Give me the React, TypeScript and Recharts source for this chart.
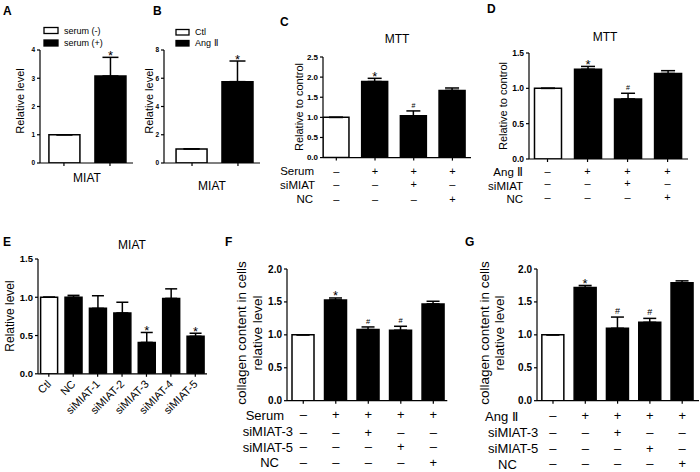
import React from "react";
import { Bar, BarChart, Cell, ErrorBar, LabelList, XAxis, YAxis } from "recharts";

const FONT = "'Liberation Sans', Arial, Helvetica, sans-serif";

// ---- data ----
// A: MIAT, serum
const aValues = [1, 3.08];
const aErrors = [0, 0.66];
const aMarks = ["", "*"];
const aLegend = ["serum (-)", "serum (+)"];

// B: MIAT, Ang II
const bValues = [1, 5.76];
const bErrors = [0, 1.46];
const bMarks = ["", "*"];
const bLegend = ["Ctl", "Ang \u2161"];

// C: MTT, serum
const cValues = [1, 1.89, 1.04, 1.67];
const cErrors = [0, 0.08, 0.12, 0.06];
const cMarks = ["", "*", "#", ""];
const cRowNames = ["Serum", "siMIAT", "NC"];
const cRows = [
  ["–", "+", "+", "+"],
  ["–", "–", "+", "–"],
  ["–", "–", "–", "+"],
];

// D: MTT, Ang II
const dValues = [1, 1.27, 0.85, 1.21];
const dErrors = [0, 0.04, 0.08, 0.04];
const dMarks = ["", "*", "#", ""];
const dRowNames = ["Ang \u2161", "siMIAT", "NC"];
const dRows = [
  ["–", "+", "+", "+"],
  ["–", "–", "+", "–"],
  ["–", "–", "–", "+"],
];

// E: MIAT knockdown
const eLabels = ["Ctl", "NC", "siMIAT-1", "siMIAT-2", "siMIAT-3", "siMIAT-4", "siMIAT-5"];
const eValues = [1, 1.0, 0.855, 0.795, 0.41, 0.985, 0.49];
const eErrors = [0, 0.025, 0.165, 0.14, 0.13, 0.125, 0.04];
const eMarks = ["", "", "", "", "*", "", "*"];

// F: collagen, serum
const fValues = [1, 1.53, 1.08, 1.07, 1.47];
const fErrors = [0, 0.03, 0.04, 0.06, 0.04];
const fMarks = ["", "*", "#", "#", ""];
const fRowNames = ["Serum", "siMIAT-3", "siMIAT-5", "NC"];
const fRows = [
  ["–", "+", "+", "+", "+"],
  ["–", "–", "+", "–", "–"],
  ["–", "–", "–", "+", "–"],
  ["–", "–", "–", "–", "+"],
];

// G: collagen, Ang II
const gValues = [1, 1.72, 1.1, 1.19, 1.79];
const gErrors = [0, 0.03, 0.17, 0.06, 0.03];
const gMarks = ["", "*", "#", "#", ""];
const gRowNames = ["Ang \u2161", "siMIAT-3", "siMIAT-5", "NC"];
const gRows = [
  ["–", "+", "+", "+", "+"],
  ["–", "–", "+", "–", "–"],
  ["–", "–", "–", "+", "–"],
  ["–", "–", "–", "–", "+"],
];

// ---- layout ----
const YW = 34;
const MT = 12;
const MR = 4;
const AXIS = { stroke: "#000", strokeWidth: 1.2 };

type Box = {
  left: number;
  right: number;
  top: number;
  bottom: number;
  xDomain: [number, number];
  yMax: number;
  yStep: number;
  digits: number;
  barSize: number;
  cap: number;
  tickFont: number;
  axisH: number;
  markFont: number;
  hashFont: number;
};

type PanelProps = {
  box: Box;
  values: number[];
  errors: number[];
  marks: string[];
  tick: (p: any) => React.ReactElement;
};

function BarPanel({ box, values, errors, marks, tick }: PanelProps) {
  const plotW = box.right - box.left;
  const plotH = box.bottom - box.top;
  const width = YW + plotW + MR;
  const height = MT + plotH + box.axisH;
  const data = values.map((v, i) => ({ i, v, e: [0, errors[i]], mark: marks[i] }));
  const yTicks: number[] = [];
  for (let t = 0; t <= box.yMax + 1e-9; t += box.yStep) yTicks.push(+t.toFixed(3));

  const renderMark = (p: any) => {
    const idx = p.index;
    const m = marks[idx];
    if (!m) return null;
    const perUnit = p.height / values[idx];
    const capY = p.y - errors[idx] * perUnit;
    const cx = p.x + p.width / 2;
    if (m === "*") {
      return (
        <text x={cx} y={capY + 2.5} textAnchor="middle" fontSize={box.markFont} fontFamily={FONT} fill="#000">
          *
        </text>
      );
    }
    return (
      <text x={cx} y={capY - 3} textAnchor="middle" fontSize={box.hashFont} fontFamily={FONT} fill="#000">
        #
      </text>
    );
  };

  return (
    <div style={{ position: "absolute", left: box.left - YW, top: box.top - MT }}>
      <BarChart width={width} height={height} data={data} margin={{ top: MT, right: MR, bottom: 0, left: 0 }}>
        <XAxis
          type="number"
          dataKey="i"
          domain={box.xDomain}
          allowDataOverflow
          ticks={values.map((_, i) => i)}
          interval={0}
          height={box.axisH}
          tickSize={3}
          axisLine={AXIS}
          tickLine={AXIS}
          tick={(p: any) => tick({ ...p, plotBottom: MT + plotH })}
        />
        <YAxis
          type="number"
          domain={[0, box.yMax]}
          allowDataOverflow
          ticks={yTicks}
          width={YW}
          tickSize={3}
          tickMargin={2}
          axisLine={AXIS}
          tickLine={AXIS}
          tickFormatter={(v: number) => v.toFixed(box.digits)}
          tick={{ fontSize: box.tickFont, fontWeight: 700, fill: "#000", fontFamily: FONT }}
        />
        <Bar dataKey="v" barSize={box.barSize} stroke="#000" strokeWidth={1.5} isAnimationActive={false}>
          {data.map((_, i) => (
            <Cell key={i} fill={i === 0 ? "#fff" : "#000"} />
          ))}
          <ErrorBar dataKey="e" direction="y" width={box.cap} stroke="#000" strokeWidth={1.5} />
          <LabelList dataKey="mark" content={renderMark} />
        </Bar>
      </BarChart>
    </div>
  );
}

const emptyTick = () => <g />;

function signTick(rows: string[][], offsets: number[], fontSize: number) {
  return (p: any) => {
    const idx = Math.round(p.payload.value);
    return (
      <g>
        {rows.map((r, k) => (
          <text
            key={k}
            x={p.x}
            y={p.plotBottom + offsets[k]}
            textAnchor="middle"
            dominantBaseline="central"
            fontSize={fontSize}
            fontFamily={FONT}
            fill="#000"
          >
            {r[idx]}
          </text>
        ))}
      </g>
    );
  };
}

const eTick = (p: any) => {
  const idx = Math.round(p.payload.value);
  return (
    <text
      transform={`translate(${p.x + 3},${p.plotBottom + 11}) rotate(-45)`}
      textAnchor="end"
      fontSize={11}
      fontFamily={FONT}
      fill="#000"
    >
      {eLabels[idx]}
    </text>
  );
};

const boxA: Box = { left: 40, right: 133, top: 50, bottom: 163, xDomain: [-0.52, 1.5], yMax: 4, yStep: 1, digits: 0, barSize: 31, cap: 8, tickFont: 6.5, axisH: 30, markFont: 13, hashFont: 8 };
const boxB: Box = { left: 164, right: 260, top: 50, bottom: 163, xDomain: [-0.61, 1.48], yMax: 8, yStep: 2, digits: 0, barSize: 31, cap: 8, tickFont: 6.5, axisH: 30, markFont: 13, hashFont: 8 };
const boxC: Box = { left: 323, right: 471, top: 56.7, bottom: 157.3, xDomain: [-0.344, 3.48], yMax: 2.5, yStep: 0.5, digits: 1, barSize: 26, cap: 7, tickFont: 8, axisH: 50, markFont: 13, hashFont: 7 };
const boxD: Box = { left: 529, right: 688, top: 53.3, bottom: 159.3, xDomain: [-0.4625, 3.51], yMax: 1.5, yStep: 0.5, digits: 1, barSize: 27, cap: 7, tickFont: 8.5, axisH: 50, markFont: 13, hashFont: 7 };
const boxE: Box = { left: 37.5, right: 206.5, top: 258.5, bottom: 373.3, xDomain: [-0.443, 6.48], yMax: 1.5, yStep: 0.5, digits: 1, barSize: 17, cap: 6, tickFont: 9.5, axisH: 60, markFont: 13, hashFont: 8 };
const boxF: Box = { left: 286.7, right: 447, top: 269, bottom: 400.7, xDomain: [-0.5, 4.43], yMax: 2, yStep: 0.5, digits: 1, barSize: 22, cap: 6.5, tickFont: 10, axisH: 70, markFont: 13, hashFont: 7.5 };
const boxG: Box = { left: 537, right: 699, top: 269, bottom: 400.7, xDomain: [-0.495, 4.52], yMax: 2, yStep: 0.5, digits: 1, barSize: 22, cap: 6.5, tickFont: 10, axisH: 70, markFont: 13, hashFont: 9 };

function T({ x, y, size, children, anchor = "start", bold = false, rotate = false }: any) {
  return (
    <text
      x={x}
      y={y}
      fontSize={size}
      fontFamily={FONT}
      fontWeight={bold ? 700 : 400}
      textAnchor={anchor}
      dominantBaseline="central"
      transform={rotate ? `rotate(-90 ${x} ${y})` : undefined}
      fill="#000"
    >
      {children}
    </text>
  );
}

function Overlay() {
  return (
    <svg width={700} height={472} style={{ position: "absolute", left: 0, top: 0, pointerEvents: "none" }}>
      {/* panel letters */}
      <T x={3} y={11} size={12} bold>A</T>
      <T x={153} y={11} size={12} bold>B</T>
      <T x={280} y={22} size={12} bold>C</T>
      <T x={487} y={9} size={12} bold>D</T>
      <T x={3} y={242} size={12} bold>E</T>
      <T x={225} y={242} size={12} bold>F</T>
      <T x={465} y={242} size={12} bold>G</T>

      {/* legends */}
      <rect x={44} y={27.5} width={14} height={6} fill="#fff" stroke="#000" strokeWidth={1.3} />
      <rect x={44} y={40} width={14} height={6} fill="#000" stroke="#000" strokeWidth={1.3} />
      <T x={64} y={30.5} size={9}>{aLegend[0]}</T>
      <T x={64} y={43} size={9}>{aLegend[1]}</T>
      <rect x={176} y={29.5} width={13} height={5.5} fill="#fff" stroke="#000" strokeWidth={1.3} />
      <rect x={176} y={40.5} width={13} height={5.5} fill="#000" stroke="#000" strokeWidth={1.3} />
      <T x={195} y={32} size={9}>{bLegend[0]}</T>
      <T x={195} y={43} size={9}>{bLegend[1]}</T>

      {/* titles */}
      <T x={87} y={178} size={12} anchor="middle">MIAT</T>
      <T x={212} y={186} size={12} anchor="middle">MIAT</T>
      <T x={397} y={39} size={12} anchor="middle">MTT</T>
      <T x={605} y={37} size={12} anchor="middle">MTT</T>
      <T x={132} y={245} size={12} anchor="middle">MIAT</T>

      {/* y labels */}
      <T x={20} y={101} size={11} anchor="middle" rotate>Relative level</T>
      <T x={149} y={101} size={11} anchor="middle" rotate>Relative level</T>
      <T x={299} y={107} size={11} anchor="middle" rotate>Relative to control</T>
      <T x={503} y={106} size={11} anchor="middle" rotate>Relative to control</T>
      <T x={10} y={316} size={12} anchor="middle" rotate>Relative level</T>
      <T x={241} y={333} size={13.5} anchor="middle" rotate>collagen content in cells</T>
      <T x={257} y={333} size={13.5} anchor="middle" rotate>relative level</T>
      <T x={484} y={333} size={13.5} anchor="middle" rotate>collagen content in cells</T>
      <T x={499} y={333} size={13.5} anchor="middle" rotate>relative level</T>

      {/* row names */}
      <T x={314} y={170.5} size={11.5} anchor="end">{cRowNames[0]}</T>
      <T x={315} y={184.7} size={11.5} anchor="end">{cRowNames[1]}</T>
      <T x={313} y={198.8} size={11.5} anchor="end">{cRowNames[2]}</T>
      <T x={523} y={172} size={11.5} anchor="end">{dRowNames[0]}</T>
      <T x={523} y={186} size={11.5} anchor="end">{dRowNames[1]}</T>
      <T x={523} y={199} size={11.5} anchor="end">{dRowNames[2]}</T>
      <T x={284} y={415} size={13} anchor="end">{fRowNames[0]}</T>
      <T x={293} y={431.5} size={13} anchor="end">{fRowNames[1]}</T>
      <T x={293} y={447} size={13} anchor="end">{fRowNames[2]}</T>
      <T x={279} y={462.7} size={13} anchor="end">{fRowNames[3]}</T>
      <T x={485} y={416} size={13}>{gRowNames[0]}</T>
      <T x={488} y={432} size={13}>{gRowNames[1]}</T>
      <T x={488} y={448} size={13}>{gRowNames[2]}</T>
      <T x={498} y={464} size={13}>{gRowNames[3]}</T>
    </svg>
  );
}

export default function App() {
  return (
    <div style={{ position: "absolute", left: 0, top: 0, width: 700, height: 472, background: "#fff", fontFamily: FONT }}>
      <BarPanel box={boxA} values={aValues} errors={aErrors} marks={aMarks} tick={emptyTick} />
      <BarPanel box={boxB} values={bValues} errors={bErrors} marks={bMarks} tick={emptyTick} />
      <BarPanel box={boxC} values={cValues} errors={cErrors} marks={cMarks} tick={signTick(cRows, [13, 26.5, 41.5], 11)} />
      <BarPanel box={boxD} values={dValues} errors={dErrors} marks={dMarks} tick={signTick(dRows, [11.5, 24, 38], 11)} />
      <BarPanel box={boxE} values={eValues} errors={eErrors} marks={eMarks} tick={eTick} />
      <BarPanel box={boxF} values={fValues} errors={fErrors} marks={fMarks} tick={signTick(fRows, [14, 31.5, 46, 62], 13)} />
      <BarPanel box={boxG} values={gValues} errors={gErrors} marks={gMarks} tick={signTick(gRows, [15.3, 32, 47.6, 63], 13)} />
      <Overlay />
    </div>
  );
}
